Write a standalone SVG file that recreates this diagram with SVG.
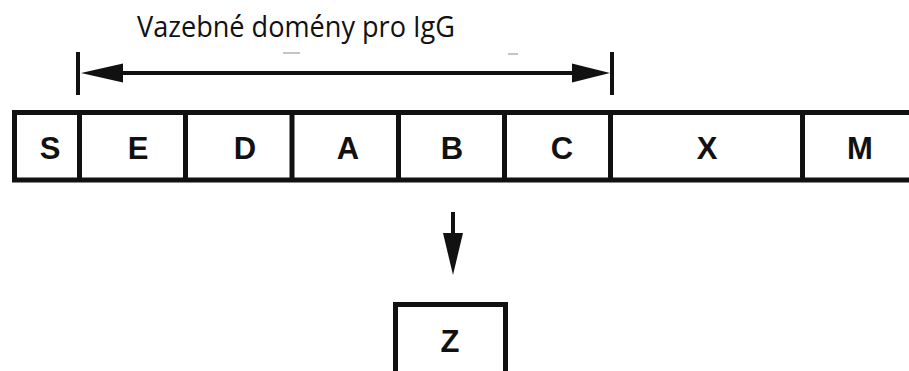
<svg xmlns="http://www.w3.org/2000/svg" width="909" height="371" viewBox="0 0 909 371">
  <style>
    .frame { fill: #ffffff; stroke: #111111; stroke-width: 5; }
    .div { stroke: #111111; stroke-width: 5; }
    .lbl { font-family: "Liberation Sans", Arial, sans-serif; font-weight: bold; font-size: 31px; fill: #111111; text-anchor: middle; }
    .title { font-family: "Open Sans", "Noto Sans", sans-serif; font-size: 30px; fill: #111111; }
    .conn { stroke: #111111; stroke-width: 4; fill: none; }
    .head { fill: #111111; }
  </style>

  <rect width="909" height="371" fill="#ffffff"/>

  <text class="title" x="137" y="37" textLength="318" lengthAdjust="spacingAndGlyphs">Vazebné domény pro IgG</text>

  <!-- protein domain band -->
  <g id="band">
    <rect class="frame" x="14.5" y="112.5" width="910" height="67.5"/>
    <line class="div" x1="79.5" y1="112" x2="79.5" y2="180"/>
    <line class="div" x1="185.5" y1="112" x2="185.5" y2="180"/>
    <line class="div" x1="292" y1="112" x2="292" y2="180"/>
    <line class="div" x1="398.5" y1="112" x2="398.5" y2="180"/>
    <line class="div" x1="504.5" y1="112" x2="504.5" y2="180"/>
    <line class="div" x1="610.5" y1="112" x2="610.5" y2="180"/>
    <line class="div" x1="802.5" y1="112" x2="802.5" y2="180"/>
  </g>
  <g id="S"><text class="lbl" x="50" y="159">S</text></g>
  <g id="E"><text class="lbl" x="138" y="159">E</text></g>
  <g id="D"><text class="lbl" x="245" y="159">D</text></g>
  <g id="A"><text class="lbl" x="348" y="159">A</text></g>
  <g id="B"><text class="lbl" x="452" y="159">B</text></g>
  <g id="C"><text class="lbl" x="562" y="159">C</text></g>
  <g id="X"><text class="lbl" x="707" y="159">X</text></g>
  <g id="M"><text class="lbl" x="860" y="159">M</text></g>

  <!-- product box -->
  <g id="Z">
    <rect class="frame" x="395.5" y="304.5" width="110" height="80"/>
    <text class="lbl" x="450" y="352">Z</text>
  </g>

  <g id="connectors">
    <!-- span of IgG-binding domains -->
    <line class="conn" x1="78" y1="52" x2="78" y2="95"/>
    <line class="conn" x1="612" y1="52" x2="612" y2="95"/>
    <line class="conn" x1="110" y1="73" x2="585" y2="73"/>
    <polygon class="head" points="81,73 123,63.5 123,82.5"/>
    <polygon class="head" points="610,73 572,63.5 572,82.5"/>
    <!-- cleavage to Z -->
    <line class="conn" x1="453" y1="212" x2="453" y2="240"/>
    <polygon class="head" points="443,233 463,233 453,275"/>
    <!-- faint marks above the span line -->
    <line x1="283" y1="53" x2="300" y2="53" stroke="#c4c4c4" stroke-width="2"/>
    <line x1="508" y1="54" x2="518" y2="54" stroke="#c4c4c4" stroke-width="2"/>
  </g>
</svg>
